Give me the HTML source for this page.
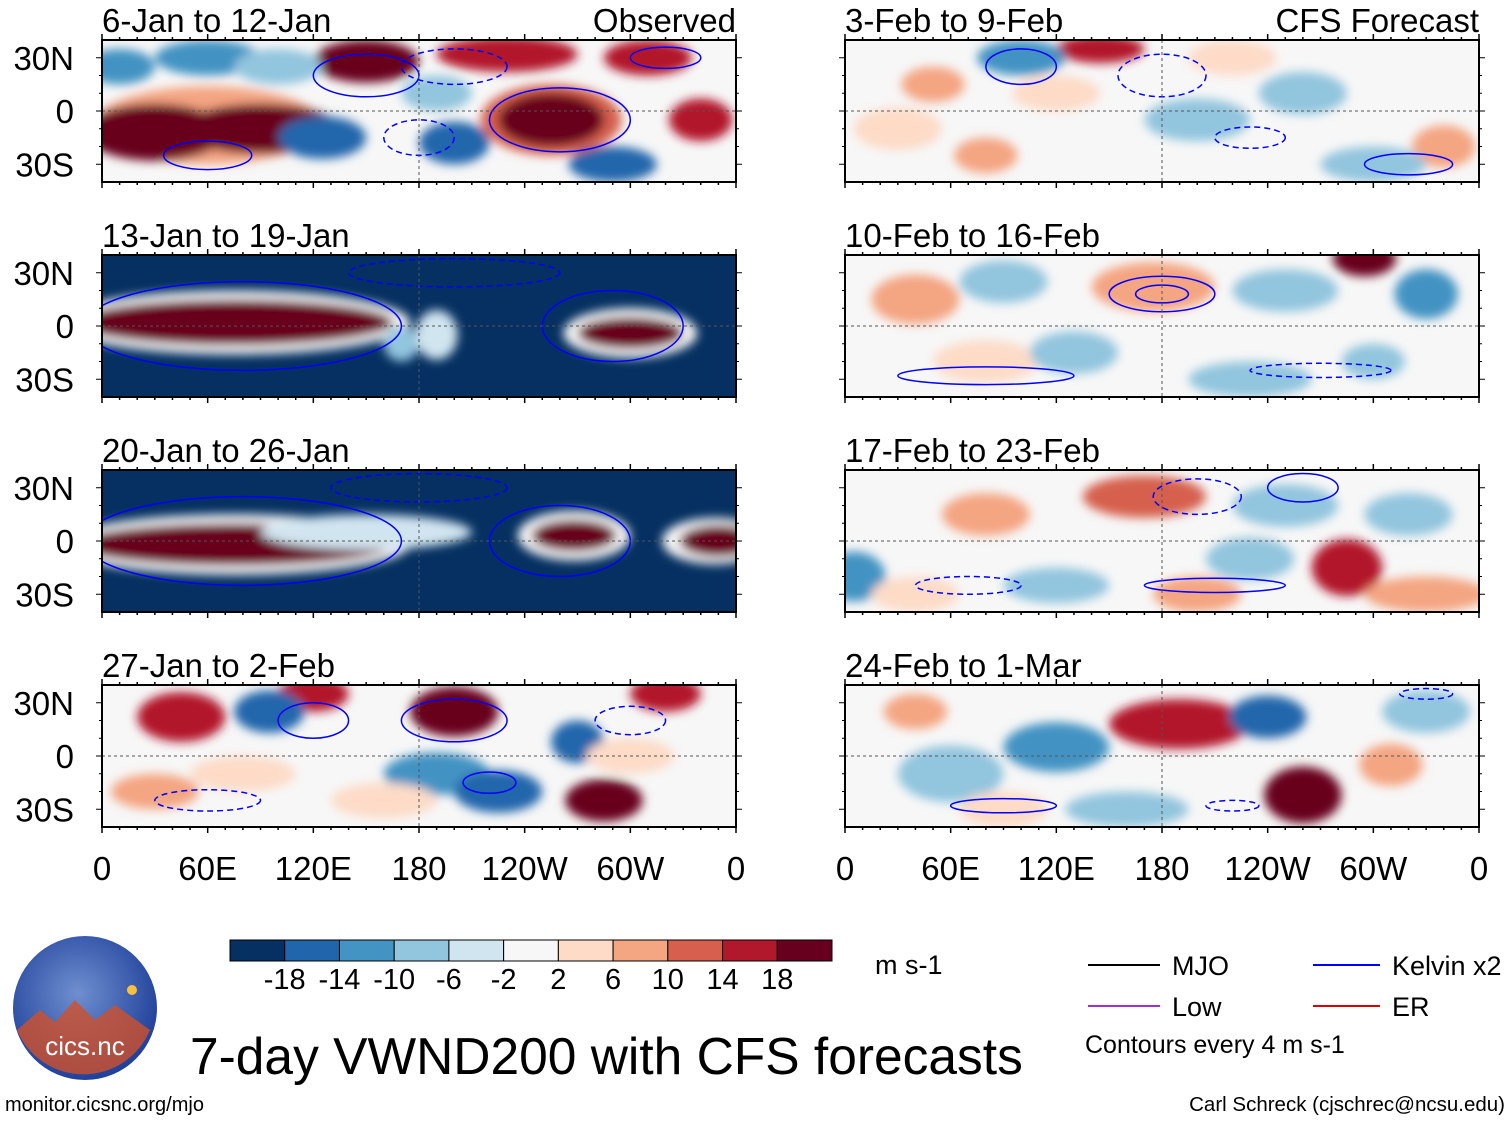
<!DOCTYPE html>
<html><head><meta charset="utf-8">
<style>
body{margin:0;background:#fff;}
svg{display:block;font-family:"Liberation Sans",Arial,sans-serif;}
</style></head>
<body>
<svg id="fig" width="1510" height="1121" viewBox="0 0 1510 1121" xmlns="http://www.w3.org/2000/svg">
<defs>
<filter id="blur" x="-20%" y="-20%" width="140%" height="140%"><feGaussianBlur stdDeviation="5"/></filter>
<radialGradient id="logo-grad" cx="45%" cy="40%" r="60%"><stop offset="0" stop-color="#6f8fd0"/><stop offset="1" stop-color="#20409a"/></radialGradient>
</defs>
<g id="panels"></g>
<g id="xaxis"></g>
<g id="colorbar"></g>
<text x="875" y="974" font-size="27">m s-1</text>
<g>
<line x1="1088" y1="965" x2="1160" y2="965" stroke="#000" stroke-width="2"/>
<text x="1172" y="975" font-size="27">MJO</text>
<line x1="1313" y1="965" x2="1380" y2="965" stroke="#0000ff" stroke-width="2"/>
<text x="1392" y="975" font-size="27">Kelvin x2</text>
<line x1="1088" y1="1006" x2="1160" y2="1006" stroke="#9933cc" stroke-width="2"/>
<text x="1172" y="1016" font-size="27">Low</text>
<line x1="1313" y1="1006" x2="1380" y2="1006" stroke="#dd0000" stroke-width="2"/>
<text x="1392" y="1016" font-size="27">ER</text>
<text x="1085" y="1053" font-size="25">Contours every 4 m s-1</text>
</g>
<text x="190" y="1074" font-size="51.5">7-day VWND200 with CFS forecasts</text>
<g>
<circle cx="85" cy="1008" r="72" fill="url(#logo-grad)"/>
<path d="M17 1030 L40 1010 L55 1022 L75 1000 L95 1020 L115 1005 L150 1030 A72 72 0 0 1 17 1030 Z" fill="#d0502a" opacity="0.8"/>
<text x="85" y="1055" font-size="26" fill="#fff" text-anchor="middle">cics.nc</text>
<circle cx="132" cy="990" r="5" fill="#f7c040"/>
</g>
<text x="5" y="1111" font-size="20">monitor.cicsnc.org/mjo</text>
<text x="1505" y="1111" font-size="20.5" text-anchor="end">Carl Schreck (cjschrec@ncsu.edu)</text>
</svg>
<script>
const levelColors=["#053061","#2166ac","#4393c3","#92c5de","#d1e5f0","#f7f7f7","#fddbc7","#f4a582","#d6604d","#b2182b","#67001f"];
const levelLabels=["-18","-14","-10","-6","-2","2","6","10","14","18"];
const panelTitles=["6-Jan to 12-Jan","13-Jan to 19-Jan","20-Jan to 26-Jan","27-Jan to 2-Feb","3-Feb to 9-Feb","10-Feb to 16-Feb","17-Feb to 23-Feb","24-Feb to 1-Mar"];
const panelBg=[5,0,0,5,5,5,5,5];
const lonTicks=["0","60E","120E","180","120W","60W","0"];
const latTicks=["30N","0","30S"];
// blobs: [lon, lat, rx deg, ry deg, level index]
const blobs=[
 [[60,-8,65,22,7],[30,-12,40,16,10],[90,-10,45,14,10],[150,28,30,12,10],[230,32,40,10,9],[255,-5,40,20,8],[255,-5,30,15,10],[310,30,25,10,9],[125,-15,25,12,1],[200,-18,20,12,1],[60,30,30,10,2],[290,-30,25,10,1],[190,10,20,10,3],[340,-5,18,12,9],[100,25,25,10,3],[10,25,20,10,2]],
 [[75,2,100,18,5],[75,2,90,13,10],[300,-4,38,14,5],[300,-4,30,9,10],[190,-5,12,14,4],[170,-10,10,10,3]],
 [[75,-2,100,17,5],[75,-2,90,12,10],[268,3,32,14,5],[268,3,24,9,10],[348,0,30,13,5],[350,0,22,9,10],[150,5,60,10,4]],
 [[45,22,25,14,9],[120,35,20,10,9],[200,25,25,14,10],[285,-25,22,12,10],[95,25,20,12,1],[270,8,15,12,1],[190,-10,30,12,2],[225,-20,25,12,1],[160,-25,30,10,6],[30,-20,25,10,7],[320,35,20,10,9],[80,-10,30,10,6],[300,0,25,10,6]],
 [[145,35,25,8,9],[100,30,25,10,2],[340,-20,18,12,7],[80,-25,18,10,7],[200,-5,30,12,3],[260,10,25,12,3],[30,-10,25,12,6],[300,-30,30,10,3],[220,30,25,10,6],[50,15,18,10,7],[120,10,25,10,6]],
 [[295,38,18,10,10],[175,22,35,14,7],[330,18,18,14,2],[40,15,25,14,7],[90,25,25,12,3],[250,20,30,12,3],[80,-20,30,12,6],[230,-30,35,10,3],[300,-20,18,10,3],[130,-15,25,12,3]],
 [[170,25,35,12,8],[285,-15,20,16,9],[5,-20,18,14,2],[80,15,25,12,7],[250,20,30,12,3],[120,-25,30,10,3],[40,-30,25,10,6],[330,-30,35,10,7],[200,-30,25,10,7],[230,-10,25,12,3],[320,15,25,12,3]],
 [[190,18,40,14,9],[260,-22,22,16,10],[240,22,22,12,1],[120,5,30,14,2],[60,-10,30,16,3],[40,25,18,10,7],[330,25,25,12,3],[160,-30,35,10,3],[310,-5,18,12,7],[90,-30,25,10,6]]
];
// contours: [lon, lat, rx deg, ry deg, dashed(1)/solid(0)]
const contours=[
 [[150,20,30,12,0],[260,-5,40,18,0],[200,25,30,10,1],[320,30,20,6,0],[60,-25,25,8,0],[180,-15,20,10,1]],
 [[80,0,90,25,0],[290,0,40,20,0],[200,30,60,8,1]],
 [[80,0,90,25,0],[260,0,40,20,0],[180,30,50,8,1]],
 [[120,20,20,10,0],[200,20,30,12,0],[220,-15,15,6,0],[60,-25,30,6,1],[300,20,20,8,1]],
 [[100,25,20,10,0],[180,20,25,12,1],[320,-30,25,6,0],[230,-15,20,6,1]],
 [[180,18,30,10,0],[180,18,15,5,0],[80,-28,50,5,0],[270,-25,40,4,1]],
 [[200,25,25,10,1],[210,-25,40,4,0],[70,-25,30,5,1],[260,30,20,8,0]],
 [[90,-28,30,4,0],[220,-28,15,3,1],[330,35,15,3,1]]
];
const NS="http://www.w3.org/2000/svg";
function mk(tag,attrs,parent){const e=document.createElementNS(NS,tag);for(const k in attrs)e.setAttribute(k,attrs[k]);parent.appendChild(e);return e;}
const panelX=[102,845], panelW=634, panelTop=[40,255,470,685], panelH=142;
function xScale(px,lon){return px+lon/360*panelW;}
function yScale(py,lat){return py+(40-lat)/80*panelH;}
const panelsG=document.getElementById('panels');
for(let i=0;i<8;i++){
  const col=i<4?0:1,row=i%4,px=panelX[col],py=panelTop[row];
  const g=mk('g',{},panelsG);
  
  
  mk('clipPath',{id:'clip'+i},g).appendChild((()=>{const r=document.createElementNS(NS,'rect');r.setAttribute('x',px);r.setAttribute('y',py);r.setAttribute('width',panelW);r.setAttribute('height',panelH);return r;})());
  const inner=mk('g',{'clip-path':'url(#clip'+i+')'},g);
  mk('rect',{x:px,y:py,width:panelW,height:panelH,fill:levelColors[panelBg[i]]},inner);
  const bg=mk('g',{filter:'url(#blur)'},inner);
  blobs[i].forEach(b=>{
    const e=mk('ellipse',{cx:xScale(px,b[0]),cy:yScale(py,b[1]),rx:b[2]/360*panelW,ry:b[3]/80*panelH,fill:levelColors[b[4]]},bg);
    
    
  });
  contours[i].forEach(c=>{
    const e=mk('ellipse',{cx:xScale(px,c[0]),cy:yScale(py,c[1]),rx:c[2]/360*panelW,ry:c[3]/80*panelH,fill:'none',stroke:'#0000ff','stroke-width':1.5,'stroke-dasharray':c[4]?'6 4':'none'},inner);
    
    
  });
  mk('line',{x1:px,x2:px+panelW,y1:yScale(py,0),y2:yScale(py,0),stroke:'#555','stroke-dasharray':'3 3','stroke-width':1},inner);
  mk('line',{x1:xScale(px,180),x2:xScale(px,180),y1:py,y2:py+panelH,stroke:'#555','stroke-dasharray':'3 3','stroke-width':1},inner);
  mk('rect',{x:px,y:py,width:panelW,height:panelH,fill:'none',stroke:'#000','stroke-width':2},g);
  for(let l=0;l<=360;l+=10){const x=xScale(px,l),len=l%60==0?6:3;
    mk('line',{x1:x,x2:x,y1:py,y2:py-len,stroke:'#000','stroke-width':1.5},g);
    mk('line',{x1:x,x2:x,y1:py+panelH,y2:py+panelH+len,stroke:'#000','stroke-width':1.5},g);}
  for(let la=-30;la<=30;la+=10){const y=yScale(py,la),len=la%30==0?6:3;
    mk('line',{x1:px,x2:px-len,y1:y,y2:y,stroke:'#000'},g);mk('line',{x1:px+panelW,x2:px+panelW+len,y1:y,y2:y,stroke:'#000'},g);}
  const t=mk('text',{x:px,y:py-8,'font-size':33},g);t.textContent=panelTitles[i];
  
  
  if(row==0){const s=mk('text',{x:px+panelW,y:py-8,'font-size':33,'text-anchor':'end'},g);s.textContent=col==0?'Observed':'CFS Forecast';
    
    }
  if(col==0){[30,0,-30].forEach((la,k)=>{const tt=mk('text',{x:74,y:yScale(py,la)+12,'font-size':33,'text-anchor':'end'},g);tt.textContent=latTicks[k];
    
    });}
}
const xa=document.getElementById('xaxis');
panelX.forEach(px=>{lonTicks.forEach((lb,k)=>{const t=mk('text',{x:xScale(px,k*60),y:880,'font-size':33,'text-anchor':'middle'},xa);t.textContent=lb;
  
  });});
const cb=document.getElementById('colorbar');
const cbX=230,cbW=602,segW=cbW/levelColors.length;
levelColors.forEach((c,k)=>{const r=mk('rect',{x:cbX+k*segW,y:940,width:segW,height:21,fill:c,stroke:'#000','stroke-width':1},cb);
  
  });
levelLabels.forEach((lb,k)=>{const t=mk('text',{x:cbX+(k+1)*segW,y:989,'font-size':29,'text-anchor':'middle'},cb);t.textContent=lb;
  
  });
</script>
</body></html>
